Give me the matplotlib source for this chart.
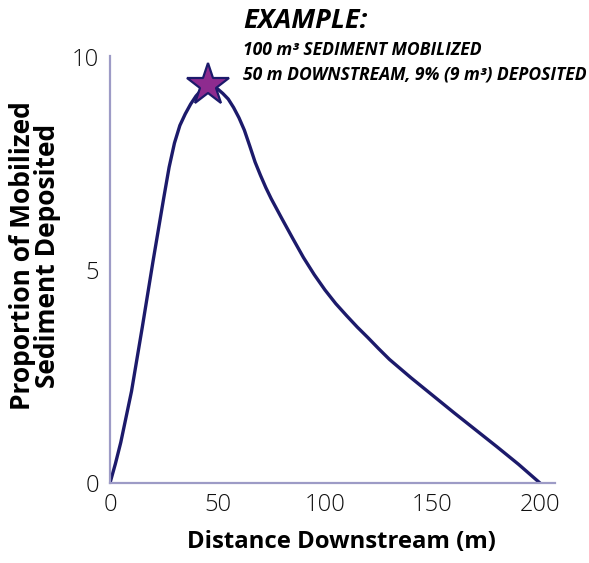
import matplotlib
matplotlib.use("Agg")
import matplotlib.pyplot as plt

# Data
distance = [0, 2.5, 5, 10, 15, 20, 25, 27.5, 30, 32.5, 35, 37.5, 40, 42.5, 45, 47.5, 50, 52.5, 55,
            57.5, 60, 62.5, 65, 67.5, 70, 72.5, 75, 80, 85, 90, 95, 100, 105, 110, 115, 120, 125,
            130, 140, 150, 160, 170, 180, 190, 200]
deposited = [0, 0.45, 0.95, 2.15, 3.65, 5.2, 6.69, 7.41, 7.98, 8.39, 8.66, 8.89, 9.08, 9.22, 9.32,
             9.31, 9.25, 9.14, 9.01, 8.81, 8.57, 8.28, 7.91, 7.53, 7.22, 6.93, 6.67, 6.20, 5.74,
             5.29, 4.89, 4.53, 4.21, 3.93, 3.66, 3.41, 3.15, 2.90, 2.47, 2.06, 1.65, 1.25, 0.85,
             0.44, 0]
star_x = [45.4]
star_y = [9.34]
xticks = [0, 50, 100, 150, 200]
yticks = [0, 5, 10]

plt.rcParams['font.family'] = ['Open Sans', 'DejaVu Sans']

W, H = 589, 563
fig = plt.figure(figsize=(W/100, H/100), dpi=100)
ax = fig.add_axes([110/W, 1-483/H, 445/W, 427/H])

line_color = '#1c1a6b'
spine_color = '#9d9bc6'

ax.plot(distance, deposited, color=line_color, lw=2.4, solid_capstyle='round',
        solid_joinstyle='round', zorder=2)
ax.plot(star_x, star_y, marker='*', markersize=32, markerfacecolor='#8e2b8f',
        markeredgecolor=line_color, markeredgewidth=1.6, zorder=3, clip_on=False)

ax.set_xlim(0, 207)
ax.set_ylim(0, 10.02)
ax.set_xticks(xticks)
ax.set_yticks(yticks)
ax.tick_params(length=0, labelsize=17, colors='#111111')
ax.tick_params(axis='x', pad=7)
ax.tick_params(axis='y', pad=8)
for lab in ax.get_xticklabels() + ax.get_yticklabels():
    lab.set_fontweight('light')
for s in ['top', 'right']:
    ax.spines[s].set_visible(False)
for s in ['left', 'bottom']:
    ax.spines[s].set_color(spine_color)
    ax.spines[s].set_linewidth(1.6)

fig.text(341.5/W, 1-548/H, 'Distance Downstream (m)', fontsize=17.2, fontweight='bold',
         ha='center', va='baseline')
fig.text(35/W, 1-256/H, 'Proportion of Mobilized\nSediment Deposited', fontsize=19,
         fontweight='bold', rotation=90, ha='center', va='center', multialignment='center',
         linespacing=0.9)

fig.text(243/W, 1-28/H, 'EXAMPLE:', fontsize=19.5, fontweight='bold', style='italic',
         ha='left', va='baseline')
fig.text(243/W, 1-55/H, '100 m³ SEDIMENT MOBILIZED', fontsize=12.6, fontweight='bold',
         style='italic', ha='left', va='baseline')
fig.text(243/W, 1-80/H, '50 m DOWNSTREAM, 9% (9 m³) DEPOSITED', fontsize=12.6, fontweight='bold',
         style='italic', ha='left', va='baseline')

fig.savefig('out.png', dpi=100)
